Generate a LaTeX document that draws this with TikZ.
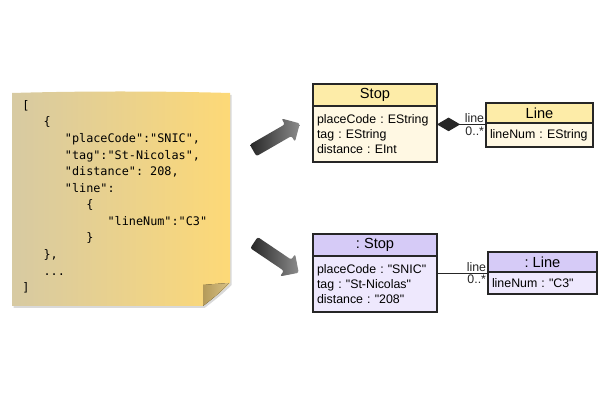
\documentclass[tikz,border=0pt]{standalone}
\usepackage{fontspec}
\setsansfont{Liberation Sans}[Ligatures=TeXOff]
\setmonofont{DejaVu Sans Mono}
\usetikzlibrary{positioning}
\usetikzlibrary{shapes.arrows}
\usetikzlibrary{arrows.meta}
\usetikzlibrary{shadows}

\definecolor{notetan}{HTML}{D7CAA2}
\definecolor{noteyellow}{HTML}{FDD977}
\definecolor{folddark}{HTML}{B49A5A}
\definecolor{foldlight}{HTML}{D8C184}
\definecolor{headyellow}{HTML}{FDECA8}
\definecolor{bodyyellow}{HTML}{FFF8E3}
\definecolor{headpurple}{HTML}{D6CBF7}
\definecolor{bodypurple}{HTML}{EEE8FD}

\begin{document}
\frenchspacing
\begin{tikzpicture}[
			umlhead/.style={rectangle, draw=black!85, line width=0.8pt, inner sep=0pt, outer sep=0pt, minimum height=0.55cm, font=\sffamily\fontsize{10.4}{12}\selectfont},
			umlbody/.style={rectangle, draw=black!85, line width=0.8pt, inner xsep=0.1cm, inner ysep=0pt, outer sep=0pt, align=left, font=\sffamily\fontsize{8.8}{10.7}\selectfont},
			classhead/.style={umlhead, fill=headyellow},
			classbody/.style={umlbody, fill=bodyyellow},
			objhead/.style={umlhead, fill=headpurple},
			objbody/.style={umlbody, fill=bodypurple},
			link/.style={line width=0.8pt, black!85},
			linklabel/.style={inner sep=1pt, font=\sffamily\fontsize{8.8}{10}\selectfont},
			blockarrow/.style={single arrow, draw=none, inner sep=0.16cm, single arrow head extend=0.17cm, single arrow head indent=0cm, minimum height=1.35cm, rounded corners=1.5pt, left color=black!85, right color=black!45},
			jsontext/.style={inner sep=0pt, align=left, font=\ttfamily\fontsize{8.4}{11.8}\selectfont},
			]
			\useasboundingbox (0,0) rectangle (15,10.475);

			%Note
			\draw[draw=none, left color=notetan, right color=noteyellow, drop shadow={shadow xshift=0.04cm, shadow yshift=-0.05cm, opacity=0.3}]
				(0.3,8.15) .. controls (2,8.2) and (4,8.2) .. (5.75,8.15) -- (5.75,3.4)
				.. controls (5.5,3.15) and (5.3,3.0) .. (5.075,2.825) -- (0.3,2.825) -- cycle;
			\fill[left color=folddark, right color=foldlight] (5.075,2.825) -- (5.075,3.35)
				.. controls (5.3,3.37) and (5.55,3.39) .. (5.72,3.4)
				.. controls (5.5,3.15) and (5.3,3.0) .. (5.075,2.825) -- cycle;
			\node[jsontext, anchor=north west] (json) at (0.55,7.975) {[\\
\phantom{xxx}\{\\
\phantom{xxxxxx}"placeCode":"SNIC",\\
\phantom{xxxxxx}"tag":"St-Nicolas",\\
\phantom{xxxxxx}"distance": 208,\\
\phantom{xxxxxx}"line":\\
\phantom{xxxxxxxxx}\{\\
\phantom{xxxxxxxxxxxx}"lineNum":"C3"\\
\phantom{xxxxxxxxx}\}\\
\phantom{xxx}\},\\
\phantom{xxx}...\\
]};

			%Arrows
			\node[blockarrow, rotate=30] (toclass) at (6.84,7.01) {};
			\node[blockarrow, rotate=-34] (toobject) at (6.84,4.08) {};

			%Class diagram
			\node[classhead, minimum width=3.1cm] (stop) at (9.375,8.1) {Stop};
			\node[classbody, text width=2.9cm, minimum height=1.4cm] (stopattr) [below=0pt of stop] {placeCode : EString\\ tag : EString\\ distance : EInt};
			\node[classhead, minimum width=2.675cm, minimum height=0.5cm] (line) at (13.4875,7.65) {Line};
			\node[classbody, text width=2.475cm, minimum height=0.6cm] (lineattr) [below=0pt of line] {\mbox{lineNum : EString}};

			%Object diagram
			\node[objhead, minimum width=3.1cm] (stopobj) at (9.375,4.35) {: Stop};
			\node[objbody, text width=2.9cm, minimum height=1.4cm] (stopobjattr) [below=0pt of stopobj] {placeCode : "SNIC"\\ tag : "St-Nicolas"\\ distance : "208"};
			\node[objhead, minimum width=2.725cm, minimum height=0.5cm] (lineobj) at (13.5625,3.925) {: Line};
			\node[objbody, text width=2.525cm, minimum height=0.55cm] (lineobjattr) [below=0pt of lineobj] {lineNum : "C3"};

			%Lines
			\coordinate (lineend) at ([yshift=-0.035cm]line.south west);
			\coordinate (lineobjend) at ([yshift=-0.03cm]lineobj.south west);
			\draw[link, {Diamond[length=0.58cm, width=0.34cm]}-] (stopattr.east |- lineend) -- (lineend)
				node[linklabel, pos=1, above left] {line}
				node[linklabel, pos=1, below left] {0..*};
			\draw[link] (stopobjattr.east |- lineobjend) -- (lineobjend)
				node[linklabel, pos=1, above left] {line}
				node[linklabel, pos=1, below left] {0..*};
		\end{tikzpicture}
\end{document}
